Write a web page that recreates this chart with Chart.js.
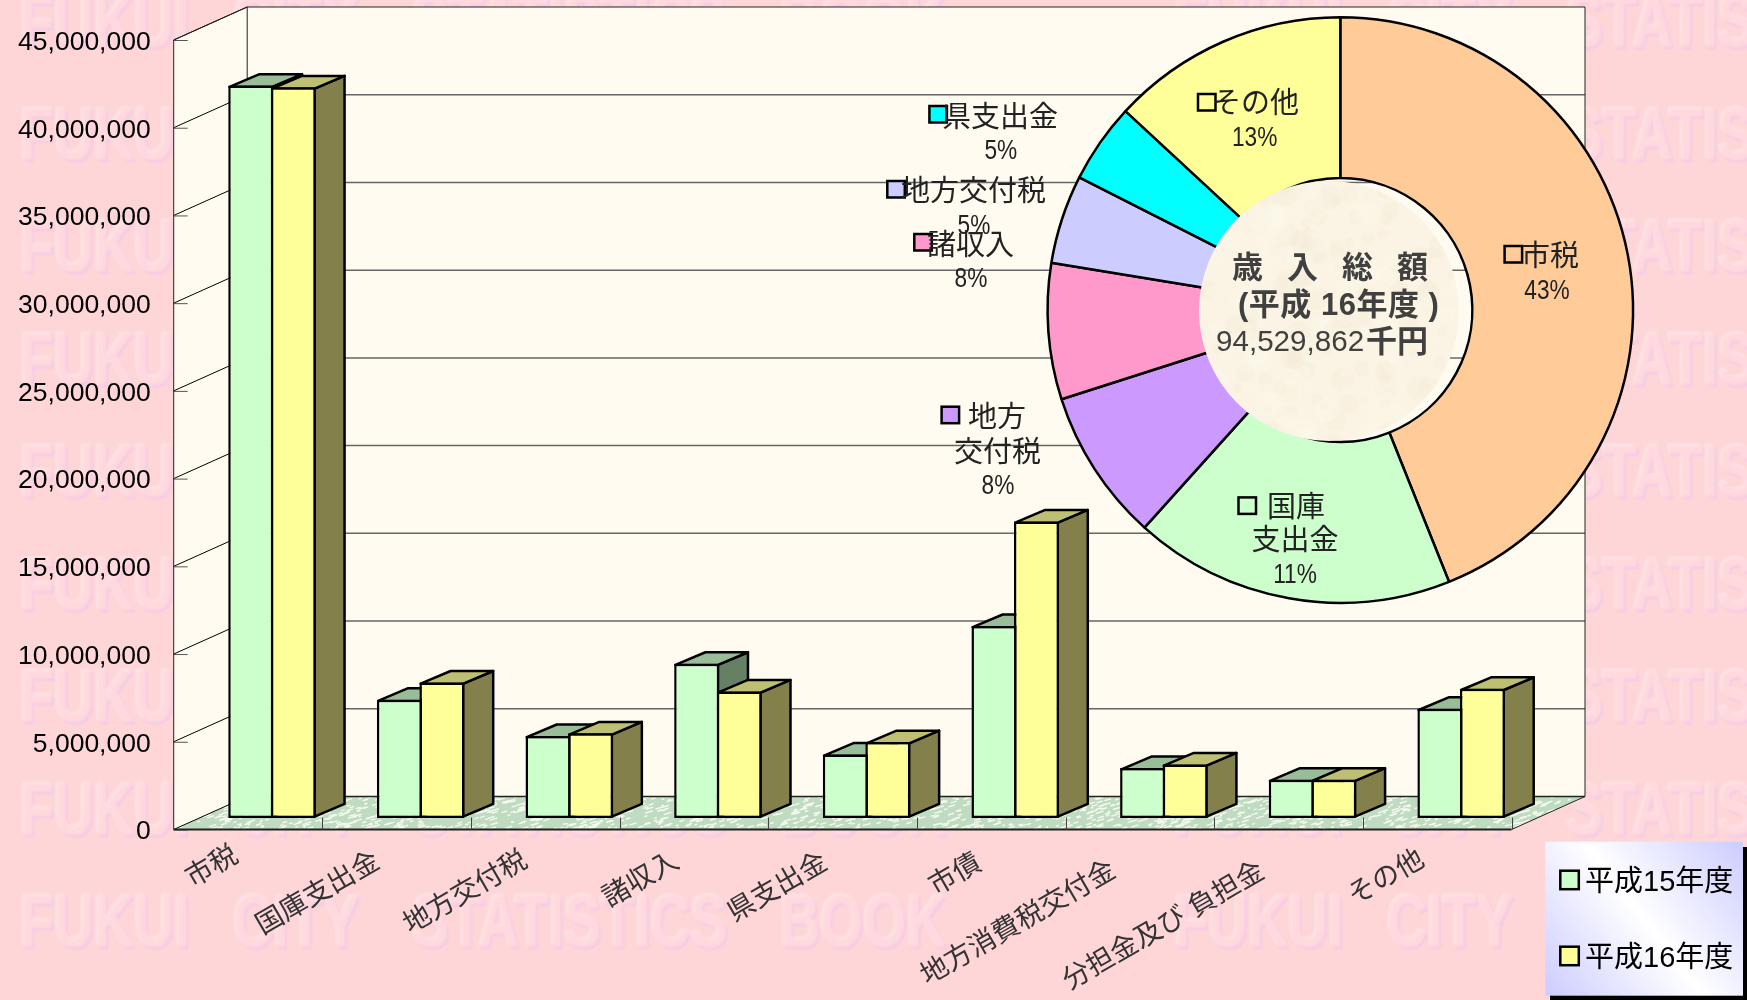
<!DOCTYPE html>
<html lang="ja"><head><meta charset="utf-8">
<style>html,body{margin:0;padding:0;background:#FFD6D8;overflow:hidden}
#wrap{position:relative;width:1747px;height:1000px}
canvas{position:absolute;left:0;top:0}</style>
<script src="https://cdn.jsdelivr.net/npm/chart.js@4"></script></head>
<body><div id="wrap"><canvas id="bars" width="1747" height="1000"></canvas><canvas id="pie" width="1747" height="1000"></canvas></div>
<script>
const categories=['市税','国庫支出金','地方交付税','諸収入','県支出金','市債','地方消費税交付金','分担金及び 負担金','その他'];
const heisei15=[41740000,6740000,4670000,8790000,3620000,10940000,2840000,2180000,6220000];
const heisei16=[41640000,7720000,4820000,7210000,4320000,16900000,3050000,2180000,7360000];
const seriesNames=['平成15年度','平成16年度'];
const sliceNames=['市税','国庫支出金','地方交付税','諸収入','地方交付税','県支出金','その他'];
const sliceShares=[43.9,17.7,8.4,7.5,4.9,4.4,13.1];
const sliceColors=['#FFCC99','#CCFFCC','#CC99FF','#FF99CC','#CCCCFF','#00FFFF','#FFFF99'];

const SANS='"Liberation Sans","Noto Sans CJK JP",sans-serif';
const FRONT={l:173.7,r:1511.5,t:40,b:829.5};
const WALL={dx:73.5,dy:33};
const BAR={tx:24,ty:11.6,dx:30,dy:12.7};
const FACE=[{front:'#CCFFCC',top:'#99BD99',side:'#668066'},{front:'#FFFF99',top:'#BFBF73',side:'#84804C'}];
const LABEL_NUDGE=[[-6,-16],[-13,-10],[-14,-11],[-11,-10],[-11,-9],[-6,-8],[-20,-1],[-20,0],[-9,-12]];

function watermark(c){
  const words=[['FUKUI',20],['CITY',233],['STATISTICS',412],['BOOK',780]];
  const period=1154,sx=0.75;
  c.save();
  c.font='bold 74px "Liberation Sans",sans-serif';c.textBaseline='alphabetic';c.textAlign='left';
  const layer=(color,ox,oy,blur)=>{
    c.filter='blur('+blur+'px)';c.fillStyle=color;
    for(let row=0;row<9;row++){
      const y=946.7-row*112.5;
      for(let k=0;k<2;k++)for(const w of words){
        c.save();c.translate(w[1]+k*period+ox,y+oy);c.scale(sx,1);c.fillText(w[0],0,0);c.restore();
      }
    }
  };
  layer('rgba(232,190,245,0.55)',2,2.5,1);
  layer('rgba(255,240,243,0.6)',-1.5,-1.5,1);
  layer('rgba(255,216,220,0.95)',0.4,0.4,1.6);
  c.restore();
}
function floor(c){
  const f=FRONT,w=WALL;
  c.save();c.beginPath();c.moveTo(f.l,f.b);c.lineTo(f.r,f.b);c.lineTo(f.r+w.dx,f.b-w.dy);c.lineTo(f.l+w.dx,f.b-w.dy);c.closePath();
  c.fillStyle='#C0DCC0';c.fill();c.clip();
  c.strokeStyle='#F6F9F0';c.lineWidth=1.4;
  let s=12345;const next=()=>{s=(s*1103515245+12345)&0x7fffffff;return s/0x7fffffff;};
  for(let i=0;i<1700;i++){
    const x=f.l+next()*(f.r-f.l+w.dx),y=f.b-w.dy+next()*w.dy,l=2+next()*6;
    c.beginPath();c.moveTo(x,y);c.lineTo(x+l,y-l*0.3);c.stroke();
  }
  c.restore();
}
const scenePlugin={id:'scene',
  beforeDraw(chart){
    const c=chart.ctx;c.save();
    c.fillStyle='#FFD6D8';c.fillRect(0,0,1747,1000);
    watermark(c);c.restore();
    const items=chart.scales.x.getLabelItems(chart.chartArea);
    if(!chart.$nudged){
      items.forEach((it,i)=>{const t=it.options.translation;it.options.translation=[t[0]+LABEL_NUDGE[i][0],t[1]+LABEL_NUDGE[i][1]];});
      chart.$nudged=true;
    }
  },
  beforeDatasetsDraw(chart){
    const c=chart.ctx,f=FRONT,w=WALL,ys=chart.scales.y;
    c.save();
    c.fillStyle='#FFFBF0';
    c.fillRect(f.l+w.dx,f.t-w.dy,f.r-f.l,f.b-f.t);
    c.beginPath();c.moveTo(f.l,f.t);c.lineTo(f.l+w.dx,f.t-w.dy);c.lineTo(f.l+w.dx,f.b-w.dy);c.lineTo(f.l,f.b);c.closePath();c.fill();
    floor(c);
    for(const t of ys.ticks){
      const y=ys.getPixelForValue(t.value);
      if(t.value>0&&t.value<45000000){
        c.strokeStyle='#666';c.lineWidth=1.5;
        c.beginPath();c.moveTo(f.l+w.dx,y-w.dy);c.lineTo(f.r+w.dx,y-w.dy);c.stroke();
      }
      c.strokeStyle='#000';c.lineWidth=1;
      c.beginPath();c.moveTo(f.l,y);c.lineTo(f.l+w.dx,y-w.dy);c.stroke();
      c.strokeStyle='#555';
      c.beginPath();c.moveTo(f.l,y+0.5);c.lineTo(f.l+14,y+0.5);c.stroke();
    }
    c.strokeStyle='#222';c.lineWidth=1;
    c.beginPath();c.moveTo(f.l,f.b);c.lineTo(f.l,f.t);c.lineTo(f.l+w.dx,f.t-w.dy);c.lineTo(f.r+w.dx,f.t-w.dy);c.lineTo(f.r+w.dx,f.b-w.dy);c.lineTo(f.r,f.b);c.stroke();
    c.beginPath();c.moveTo(f.l+w.dx,f.t-w.dy);c.lineTo(f.l+w.dx,f.b-w.dy);c.stroke();
    c.lineWidth=1.5;c.strokeStyle='#222';
    c.beginPath();c.moveTo(f.l+w.dx,f.b-w.dy);c.lineTo(f.r+w.dx,f.b-w.dy);c.stroke();
    c.lineWidth=2;c.strokeStyle='#222';
    c.beginPath();c.moveTo(f.l,f.b);c.lineTo(f.r,f.b);c.stroke();
    c.lineWidth=1;c.strokeStyle='#444';
    const step=(f.r-f.l)/categories.length;
    for(let i=1;i<=categories.length;i++){
      const x=Math.round(f.l+step*i)+0.5;
      c.beginPath();c.moveTo(x,f.b);c.lineTo(x,f.b-12);c.stroke();
    }
    // depth faces of each bar, read from the bar elements Chart.js laid out
    c.translate(BAR.tx,BAR.ty*-1);
    c.lineWidth=2.5;c.strokeStyle='#000';c.lineJoin='round';
    for(let i=0;i<categories.length;i++){
      for(let d=0;d<2;d++){
        const el=chart.getDatasetMeta(d).data[i];if(!el)continue;
        const p=el.getProps(['x','y','width','base'],true);
        const x0=p.x-p.width/2+1.25,x1=p.x+p.width/2-1.25,yt=p.y+1.25,yb=p.base-1.25;
        c.fillStyle=FACE[d].side;
        c.beginPath();c.moveTo(x1,yt);c.lineTo(x1+BAR.dx,yt-BAR.dy);c.lineTo(x1+BAR.dx,yb-BAR.dy);c.lineTo(x1,yb);c.closePath();c.fill();c.stroke();
        c.fillStyle=FACE[d].top;
        c.beginPath();c.moveTo(x0,yt);c.lineTo(x0+BAR.dx,yt-BAR.dy);c.lineTo(x1+BAR.dx,yt-BAR.dy);c.lineTo(x1,yt);c.closePath();c.fill();c.stroke();
      }
    }
    c.restore();
  },
  beforeDatasetDraw(chart){chart.ctx.save();chart.ctx.translate(BAR.tx,-BAR.ty);},
  afterDatasetDraw(chart){chart.ctx.restore();},
  afterDraw(chart){
    const c=chart.ctx;c.save();
    c.fillStyle='#000';c.fillRect(1550,847,197,153);
    const g=c.createLinearGradient(1743,842,1545,996);
    g.addColorStop(0,'#CCCCFF');g.addColorStop(0.5,'#FFFFFF');g.addColorStop(1,'#CCCCFF');
    c.fillStyle=g;c.fillRect(1545.3,841.7,197.7,154);
    const rows=[[870.7,883.2],[946.7,958.7]];
    seriesNames.forEach((n,i)=>{
      c.fillStyle=FACE[i].front;c.strokeStyle='#000';c.lineWidth=2.5;
      c.fillRect(1560.3,rows[i][0],18.5,18.5);c.strokeRect(1560.3,rows[i][0],18.5,18.5);
      c.fillStyle='#000';c.font='29px '+SANS;c.textAlign='left';c.textBaseline='middle';
      c.fillText(n,1585,rows[i][1]);
    });
    c.restore();
  }
};
new Chart(document.getElementById('bars'),{
  type:'bar',
  data:{labels:categories,datasets:[
    {label:seriesNames[0],data:heisei15,backgroundColor:FACE[0].front,borderColor:'#000',borderWidth:2.5,borderSkipped:false,clip:false},
    {label:seriesNames[1],data:heisei16,backgroundColor:FACE[1].front,borderColor:'#000',borderWidth:2.5,borderSkipped:false,clip:false}]},
  options:{responsive:false,animation:false,devicePixelRatio:1,
    layout:{padding:{left:0,top:FRONT.t,right:1747-FRONT.r,bottom:0}},
    plugins:{legend:{display:false},tooltip:{enabled:false}},
    datasets:{bar:{categoryPercentage:0.572,barPercentage:1.06}},
    scales:{
      x:{grid:{display:false},border:{display:false},afterFit(s){s.height=1000-FRONT.b;},
        ticks:{autoSkip:false,minRotation:30,maxRotation:30,padding:18,color:'#333',labelOffset:-6,font:{family:SANS,size:27.5}}},
      y:{min:0,max:45000000,grid:{display:false},border:{display:false},afterFit(s){s.width=FRONT.l;},
        ticks:{stepSize:5000000,padding:15,labelOffset:2.5,color:'#000',font:{family:SANS,size:26.5},callback:v=>v.toLocaleString('en-US')}}
    }},
  plugins:[scenePlugin]
});

const pieNotes=[
 {box:[1504.6,246],color:0,lines:[['市税',1521,258,'left'],['43%',1547,292,'pct']]},
 {box:[1198,94],color:6,lines:[['その他',1212,105,'left'],['13%',1254.7,139,'pct']]},
 {box:[1238.5,497.4],color:1,lines:[['国庫',1267,509,'left'],['支出金',1295,542,'center'],['11%',1295,576,'pct']]},
 {box:[929.4,106],color:5,lines:[['県支出金',942,119,'left'],['5%',1000.8,152,'pct']]},
 {box:[887.3,181],color:4,lines:[['地方交付税',901,193,'left'],['5%',974,227,'pct']]},
 {box:[914.3,234],color:3,lines:[['諸収入',927,247,'left'],['8%',971,280,'pct']]},
 {box:[941.6,406.7],color:2,lines:[['地方',968,418.5,'left'],['交付税',997.6,453.5,'center'],['8%',998,487,'pct']]}
];
const centerPlugin={id:'pieNotes',
  afterDatasetsDraw(chart){
    const c=chart.ctx;c.save();
    c.fillStyle='#FBF3E4';c.beginPath();c.arc(1329,311,130,0,Math.PI*2);c.fill();
    c.save();c.clip();
    let s=777;const next=()=>{s=(s*1103515245+12345)&0x7fffffff;return s/0x7fffffff;};
    for(let i=0;i<260;i++){
      c.fillStyle=i%2?'rgba(255,252,244,0.16)':'rgba(240,226,200,0.1)';
      c.beginPath();c.arc(1199+next()*260,181+next()*260,4+next()*9,0,Math.PI*2);c.fill();
    }
    c.restore();
    c.fillStyle='#404040';c.textBaseline='middle';c.textAlign='left';
    c.font='bold 31px '+SANS;
    c.letterSpacing='24px';c.fillText('歳入総額',1232,269.5);
    c.letterSpacing='0.5px';c.fillText('(平成 16年度 )',1238,306.5);
    c.letterSpacing='0px';
    c.font='29.6px '+SANS;c.fillText('94,529,862',1216,343);
    c.font='bold 31px '+SANS;c.fillText('千円',1366,343);
    for(const n of pieNotes){
      c.fillStyle=sliceColors[n.color];c.strokeStyle='#000';c.lineWidth=2.5;
      c.fillRect(n.box[0],n.box[1],17.5,16.5);c.strokeRect(n.box[0],n.box[1],17.5,16.5);
      for(const l of n.lines){
        c.fillStyle='#222';
        if(l[3]==='pct'){
          c.save();c.translate(l[1],l[2]);c.scale(0.84,1);c.font='27px '+SANS;c.textAlign='center';c.fillText(l[0],0,0);c.restore();
        } else {c.font='29px '+SANS;c.textAlign=l[3];c.fillText(l[0],l[1],l[2]);}
      }
    }
    c.restore();
  }
};
new Chart(document.getElementById('pie'),{
  type:'doughnut',
  data:{labels:sliceNames,datasets:[{data:sliceShares,backgroundColor:sliceColors,borderColor:'#000',borderWidth:2.5}]},
  options:{responsive:false,animation:false,devicePixelRatio:1,cutout:132,rotation:0,
    layout:{padding:{left:1046.3,right:1747-1634.3,top:16,bottom:1000-604}},
    plugins:{legend:{display:false},tooltip:{enabled:false}}},
  plugins:[centerPlugin]
});
</script></body></html>
